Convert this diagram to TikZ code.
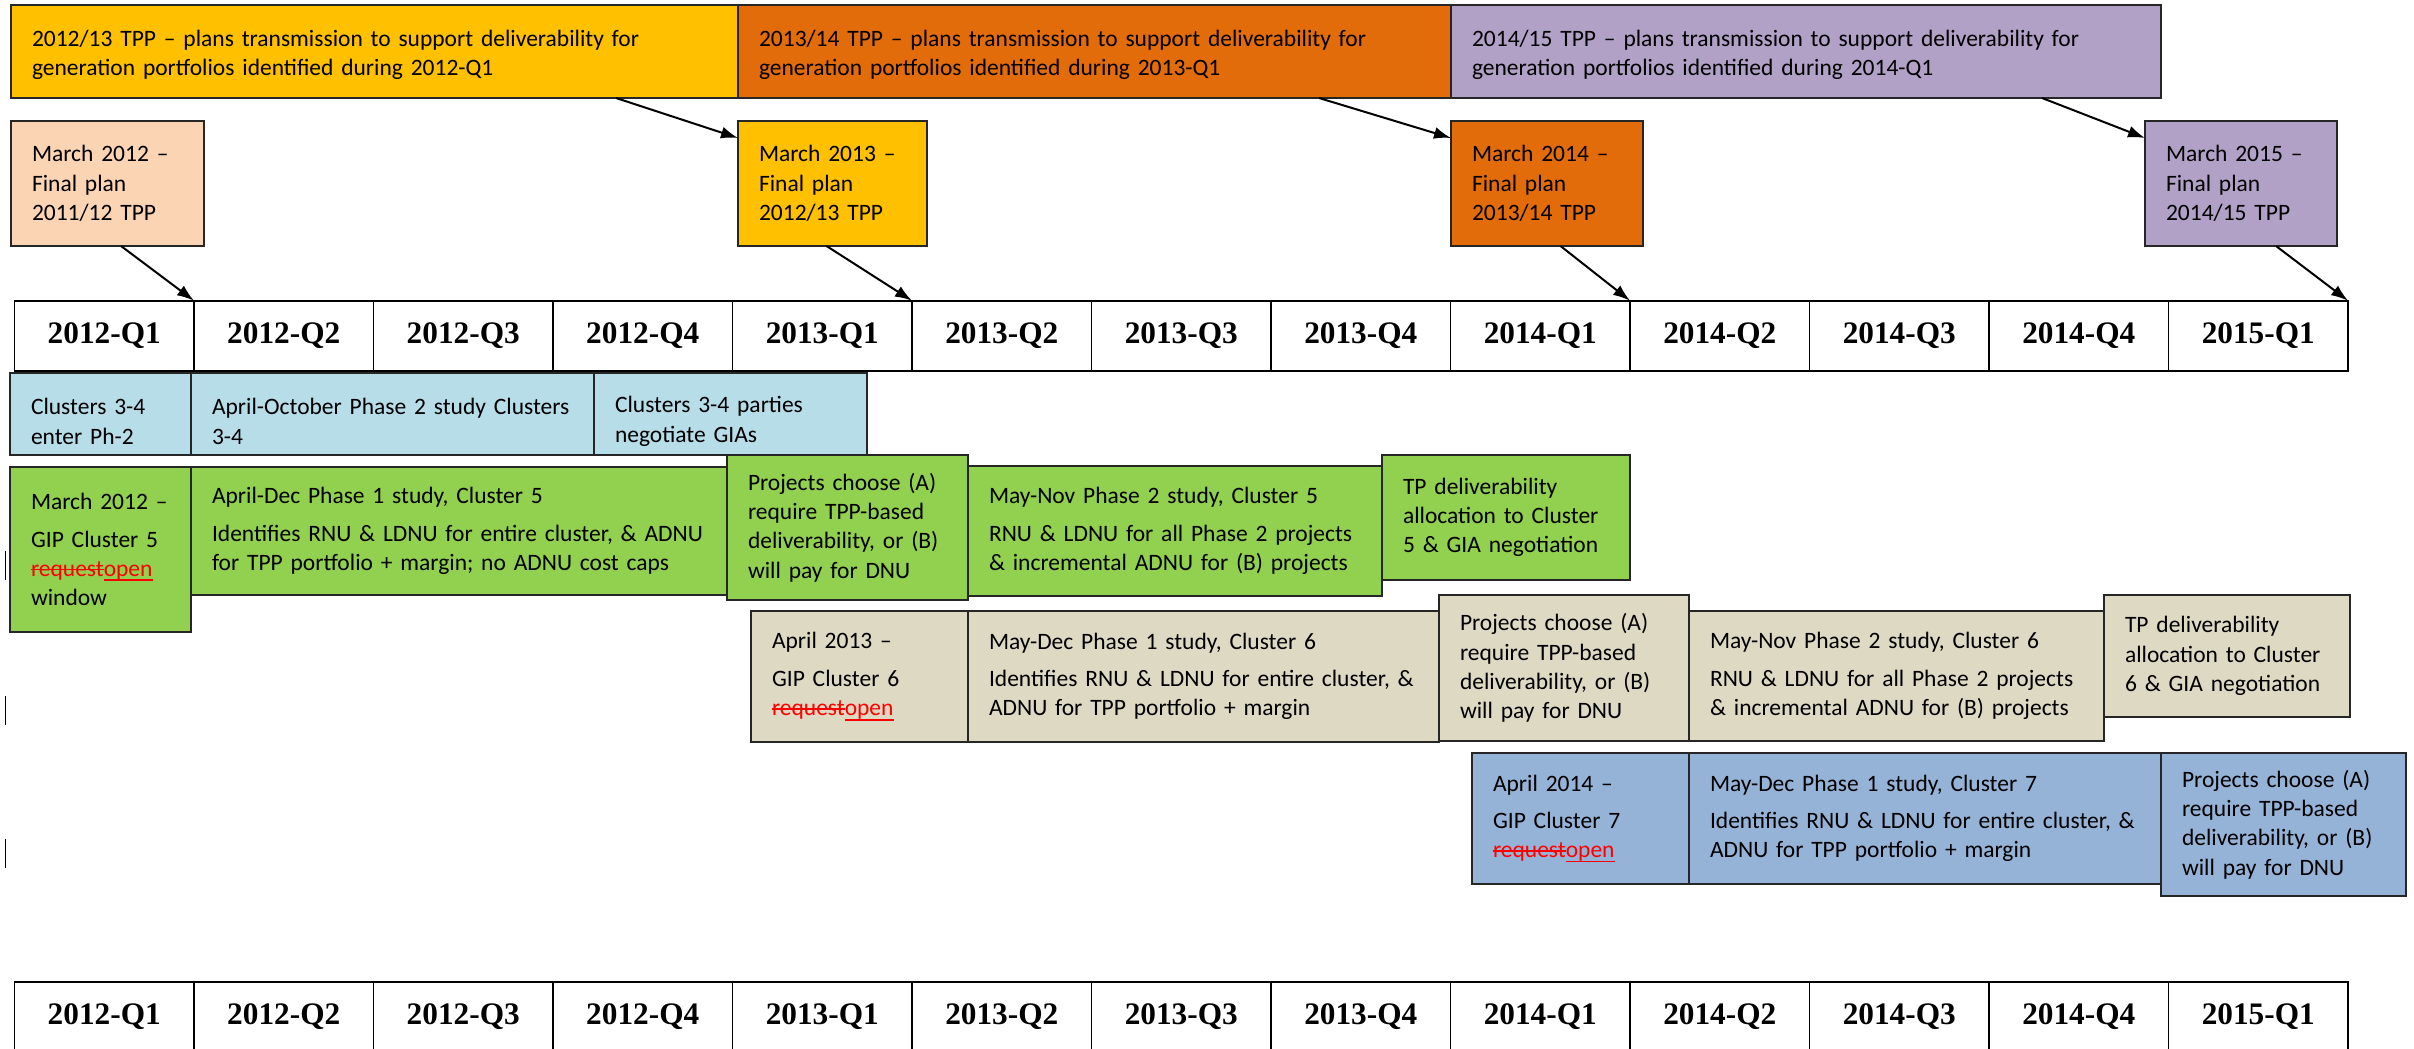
\documentclass[tikz,border=0pt]{standalone}
\usepackage{fontspec}
\setmainfont{Carlito}
\newfontfamily\qfont{Liberation Serif}
\usepackage{tikz}
\usetikzlibrary{positioning}
\usetikzlibrary{arrows.meta}
\tikzset{>={Latex[width=12pt,length=17pt]}}
\definecolor{tppyellow}{HTML}{FFC000}
\definecolor{tpporange}{HTML}{E36C0A}
\definecolor{tpppurple}{HTML}{B2A1C7}
\definecolor{planpeach}{HTML}{FBD4B4}
\definecolor{clusterblue}{HTML}{B7DDE8}
\definecolor{clustergreen}{HTML}{92D050}
\definecolor{clustertan}{HTML}{DDD9C3}
\definecolor{clustersteel}{HTML}{95B3D7}
\newsavebox{\wordbox}
\newcommand{\strikeword}[1]{\sbox{\wordbox}{#1}\rlap{\rule[0.26em]{\wd\wordbox}{1.8pt}}\usebox{\wordbox}}
\newcommand{\underword}[1]{\sbox{\wordbox}{#1}\rlap{\rule[-0.2em]{\wd\wordbox}{1.8pt}}\usebox{\wordbox}}
\newcommand{\reqopen}{\textcolor{red}{\strikeword{request}\underword{open}}}

\begin{document}
\begin{tikzpicture}[x=1pt, y=-1pt, box/.style={draw=black!85, line width=1.5pt, inner xsep=21pt, inner ysep=0pt, outer sep=0pt, align=left, anchor=north west, font=\fontsize{23.5}{29.3}\selectfont, execute at begin node={\rightskip=0pt plus 1fil minus 40pt\hyphenpenalty=10000\relax}}, lowtext/.style={execute at begin node={\rule{0pt}{#1}}}, quarter/.style={draw=black, line width=1.6pt, minimum width=179.5pt, minimum height=70pt, inner sep=0pt, outer sep=0pt, font=\qfont\bfseries\fontsize{31.3}{36}\selectfont}, arrow/.style={->, line width=2pt}]
    \clip (0,0) rectangle (2414,1049);

    %Nodes
    \node[box, lowtext=23pt, fill=tppyellow, text width=685pt, minimum height=93pt](tpp1213) at (11,5){2012/13 TPP – plans transmission to support deliverability for\\generation portfolios identified during 2012-Q1};
    \node[box, lowtext=23pt, fill=tpporange, text width=671pt, minimum height=93pt](tpp1314)[right=0pt of tpp1213]{2013/14 TPP – plans transmission to support deliverability for\\generation portfolios identified during 2013-Q1};
    \node[box, lowtext=23pt, fill=tpppurple, text width=668pt, minimum height=93pt](tpp1415)[right=0pt of tpp1314]{2014/15 TPP – plans transmission to support deliverability for\\generation portfolios identified during 2014-Q1};

    \node[box, fill=planpeach, text width=151pt, minimum height=125pt](mar12) at (11,121){March 2012 –\\Final plan\\2011/12 TPP};
    \node[box, fill=tppyellow, text width=147pt, minimum height=125pt](mar13) at (738,121){March 2013 –\\Final plan\\2012/13 TPP};
    \node[box, fill=tpporange, text width=150pt, minimum height=125pt](mar14) at (1451,121){March 2014 –\\Final plan\\2013/14 TPP};
    \node[box, fill=tpppurple, text width=150pt, minimum height=125pt](mar15) at (2145,121){March 2015 –\\Final plan\\2014/15 TPP};

    \foreach \lab [count=\i] in {2012-Q1,2012-Q2,2012-Q3,2012-Q4,2013-Q1,2013-Q2,2013-Q3,2013-Q4,2014-Q1,2014-Q2,2014-Q3,2014-Q4,2015-Q1}{
        \node[quarter](tq\i) at ({14.5+179.5*(\i-0.5)},335.7){\lab};
        \node[quarter](bq\i) at ({14.5+179.5*(\i-0.5)},1017){\lab};
    }

    \node[box, lowtext=31pt, fill=clusterblue, text width=139pt, minimum height=82pt](c34enter) at (10,373){Clusters 3-4\\enter Ph-2};
    \node[box, lowtext=31pt, fill=clusterblue, text width=361pt, minimum height=82pt](c34study)[right=0pt of c34enter]{April-October Phase 2 study Clusters\\3-4};
    \node[box, lowtext=31pt, fill=clusterblue, text width=231pt, minimum height=82pt](c34gia)[right=0pt of c34study]{Clusters 3-4 parties\\negotiate GIAs};

    \node[box, fill=clustergreen, text width=139pt, minimum height=165pt](gip5) at (10,467){March 2012 –\\[8.5pt]GIP Cluster 5\\\reqopen\\window};
    \node[box, fill=clustergreen, text width=494pt, minimum height=128pt](p1c5) at (gip5.north east){April-Dec Phase 1 study, Cluster 5\\[8pt]Identifies RNU \& LDNU for entire cluster, \& ADNU\\for TPP portfolio + margin; no ADNU cost caps};
    \node[box, fill=clustergreen, text width=199pt, minimum height=145pt](choose5) at (727,455){Projects choose (A)\\require TPP-based\\deliverability, or (B)\\will pay for DNU};
    \node[box, fill=clustergreen, text width=372pt, minimum height=130pt](p2c5) at (968,466){May-Nov Phase 2 study, Cluster 5\\[8pt]RNU \& LDNU for all Phase 2 projects\\\& incremental ADNU for (B) projects};
    \node[box, fill=clustergreen, text width=206pt, minimum height=125pt](tp5) at (1382,455){TP deliverability\\allocation to Cluster\\5 \& GIA negotiation};

    \node[box, fill=clustertan, text width=175pt, minimum height=131pt](gip6) at (751,611){April 2013 –\\[8.5pt]GIP Cluster 6\\\reqopen};
    \node[box, fill=clustertan, text width=429pt, minimum height=131pt](p1c6) at (gip6.north east){May-Dec Phase 1 study, Cluster 6\\[8pt]Identifies RNU \& LDNU for entire cluster, \&\\ADNU for TPP portfolio + margin};
    \node[box, fill=clustertan, text width=208pt, minimum height=146pt](choose6) at (1439,595){Projects choose (A)\\require TPP-based\\deliverability, or (B)\\will pay for DNU};
    \node[box, fill=clustertan, text width=373pt, minimum height=130pt](p2c6) at (1689,611){May-Nov Phase 2 study, Cluster 6\\[8pt]RNU \& LDNU for all Phase 2 projects\\\& incremental ADNU for (B) projects};
    \node[box, fill=clustertan, text width=204pt, minimum height=122pt](tp6) at (2104,595){TP deliverability\\allocation to Cluster\\6 \& GIA negotiation};

    \node[box, fill=clustersteel, text width=175pt, minimum height=131pt](gip7) at (1472,753){April 2014 –\\[8pt]GIP Cluster 7\\\reqopen};
    \node[box, fill=clustersteel, text width=430pt, minimum height=131pt](p1c7) at (gip7.north east){May-Dec Phase 1 study, Cluster 7\\[8pt]Identifies RNU \& LDNU for entire cluster, \&\\ADNU for TPP portfolio + margin};
    \node[box, fill=clustersteel, text width=203pt, minimum height=143pt](choose7) at (p1c7.north east){Projects choose (A)\\require TPP-based\\deliverability, or (B)\\will pay for DNU};

    %Lines
    \draw[arrow] ([xshift=-122pt]tpp1213.south east) -- ([yshift=-17pt]mar13.north west);
    \draw[arrow] ([xshift=-132pt]tpp1314.south east) -- ([yshift=-17pt]mar14.north west);
    \draw[arrow] ([xshift=-119pt]tpp1415.south east) -- ([yshift=-17pt]mar15.north west);
    \draw[arrow] ([xshift=13.5pt]mar12.south) -- (tq1.north east);
    \draw[arrow] ([xshift=-6pt]mar13.south) -- (tq5.north east);
    \draw[arrow] ([xshift=13.5pt]mar14.south) -- (tq9.north east);
    \draw[arrow] ([xshift=35pt]mar15.south) -- (tq13.north east);

    \draw[line width=1.5pt] (5.7,551) -- (5.7,580);
    \draw[line width=1.5pt] (5.7,696) -- (5.7,725);
    \draw[line width=1.5pt] (5.7,839) -- (5.7,868);

\end{tikzpicture}
\end{document}
